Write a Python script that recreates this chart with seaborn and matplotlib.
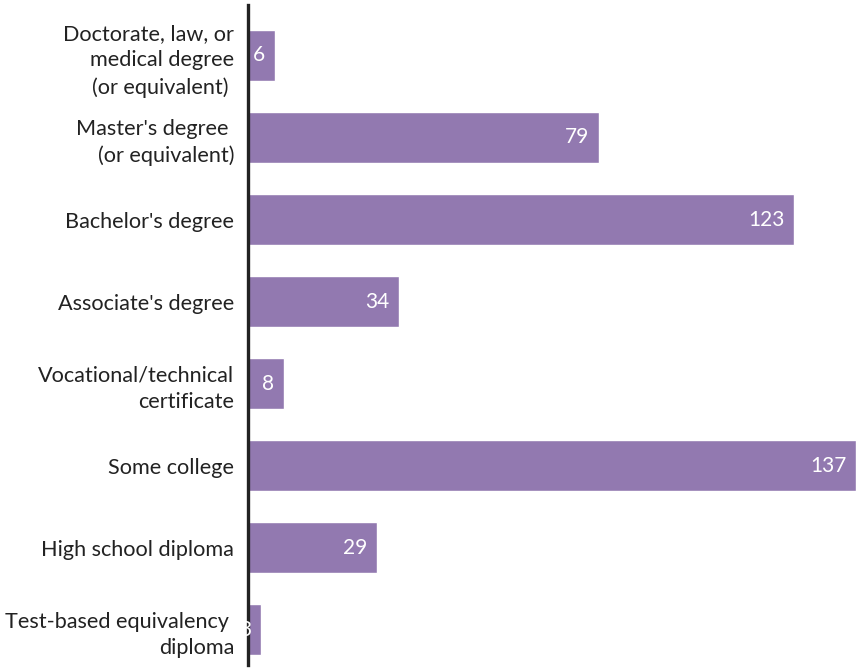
import numpy as np
import pandas as pd
import matplotlib
matplotlib.use("Agg")
import matplotlib.pyplot as plt
import seaborn as sns

# Education levels (top to bottom) and counts
categories = [
    "Doctorate, law, or\nmedical degree\n(or equivalent) ",
    "Master's degree \n(or equivalent)",
    "Bachelor's degree",
    "Associate's degree",
    "Vocational/technical\ncertificate",
    "Some college",
    "High school diploma",
    "Test-based equivalency \ndiploma",
]
counts = [6, 79, 123, 34, 8, 137, 29, 3]

bar_color = "#9279B0"

sns.set_style("white")
plt.rcParams["font.family"] = ["Lato", "DejaVu Sans"]

df = pd.DataFrame({"level": categories, "count": counts})

fig = plt.figure(figsize=(8.56, 6.70), dpi=100)
ax = fig.add_axes([248 / 856, 5 / 670, 1 - 248 / 856, 660 / 670])

sns.barplot(data=df, y="level", x="count", orient="h", color=bar_color,
            saturation=1, width=0.62, ax=ax)

ax.set_xlim(0, max(counts))
ax.set_ylim(7.43, -0.615)
ax.set_xlabel("")
ax.set_ylabel("")
ax.set_xticks([])
ax.set_yticks(range(len(categories)), labels=categories, linespacing=1.4)
ax.tick_params(axis="y", length=0, pad=10, labelsize=15.6, labelcolor="#222222")

for side in ["top", "right", "bottom"]:
    ax.spines[side].set_visible(False)
ax.spines["left"].set_color("#222222")
ax.spines["left"].set_linewidth(2.4)

# value labels inside bar ends
for i, v in enumerate(counts):
    ax.annotate(str(v), xy=(v, i), xytext=(-7, 0), textcoords="offset points",
                ha="right", va="center", color="white", fontsize=15, zorder=4)

fig.savefig("out.png", dpi=100)
